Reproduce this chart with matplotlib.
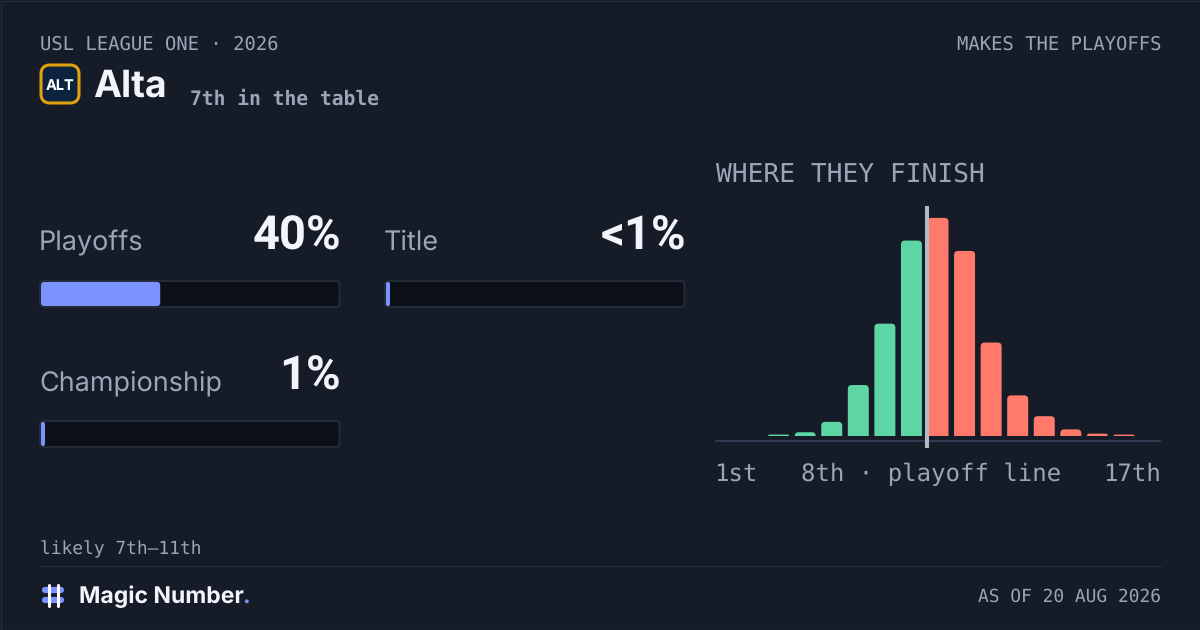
import matplotlib
matplotlib.use("Agg")
import matplotlib.pyplot as plt
from matplotlib.patches import FancyBboxPatch, PathPatch, Rectangle
from matplotlib.path import Path

plt.rcParams["text.hinting"] = "no_hinting"

BG = "#151b27"
EDGE = "#232a38"
TRACK = "#0c1018"
BLUE = "#7c93ff"
WHITE = "#f1f4fa"
GREY = "#9aa5b8"
GREEN = "#5dd5a4"
RED = "#ff7a6b"
MONO = "DejaVu Sans Mono"
SANS = "Inter"

# finish distribution, % of sims per table position
ranks = list(range(1, 18))
finish_pct = [0, 0, 0.15, 0.4, 1.5, 5.4, 11.9, 20.7, 23.1, 19.6, 9.9, 4.3, 2.1, 0.7, 0.25, 0.15, 0]
last_playoff_rank = 8

stat_labels = ["Playoffs", "Title", "Championship"]
stat_texts = ["40%", "<1%", "1%"]
stat_values = [40, 0.5, 1]


def px(size):
    return size * 0.72


fig = plt.figure(figsize=(12, 6.3), dpi=100, facecolor=BG)
ax = fig.add_axes([0, 0, 1, 1])
ax.set_xlim(0, 1200)
ax.set_ylim(630, 0)
ax.axis("off")

ax.add_patch(Rectangle((0.5, 0.5), 1199, 629, fc="none", ec=EDGE, lw=1))


def label(x, y, s, size, color=GREY, font=MONO, weight="normal", ha="left"):
    return ax.text(x, y, s, fontsize=px(size), color=color, family=font,
                   weight=weight, ha=ha, va="baseline")


def rbox(x0, y0, x1, y1, r, **kw):
    box = FancyBboxPatch((x0 + r, y0 + r), x1 - x0 - 2 * r, y1 - y0 - 2 * r,
                         boxstyle=f"round,pad={r},rounding_size={r}", **kw)
    ax.add_patch(box)


# header
label(39.5, 50, "USL LEAGUE ONE · 2026", 18.85)
label(1161, 50, "MAKES THE PLAYOFFS", 18.9, ha="right")
rbox(41, 65, 79, 103, 9, fc="#0c2340", ec="#e2a20f", lw=2.2)
label(60, 90, "ALT", 14.5, color="white", font=SANS, weight="bold", ha="center")
label(93, 97, "Alta", 37.5, color=WHITE, font=SANS, weight="bold")
label(190, 105, "7th in the table", 19.6, font=MONO, weight="bold")

# stat cards
cards = [(40, 250), (385, 250), (40, 390)]
for (x, base), name, txt, val in zip(cards, stat_labels, stat_texts, stat_values):
    label(x - 1, base, name, 27, font=SANS)
    label(x + 301, base, txt, 47, color=WHITE, font="Roboto", weight="bold", ha="right")
    top = base + 31
    rbox(x, top, x + 299.5, top + 26, 4, fc=TRACK, ec=EDGE, lw=1.5)
    width = max(298 * val / 100, 4)
    rbox(x + 1, top + 1, x + 1 + width, top + 25, min(3, width / 2), fc=BLUE, ec="none")

# histogram
label(715.5, 182, "WHERE THEY FINISH", 26.2)
hist = fig.add_axes([715 / 1200, 1 - 448 / 630, 446 / 1200, 242 / 630])
hist.set_xlim(0.605, 17.395)
hist.set_ylim(-1.27, 24.36)
hist.axis("off")
hist.patch.set_alpha(0)

X_PX = 26.56
Y_PX = 9.44
BAR_W = 0.79
for rank, pct in zip(ranks, finish_pct):
    if pct <= 0:
        continue
    r = min(4, pct * Y_PX, BAR_W * X_PX / 2)
    rx, ry = r / X_PX, r / Y_PX
    x0, x1 = rank - BAR_W / 2, rank + BAR_W / 2
    verts = [(x0, 0), (x0, pct - ry), (x0, pct), (x0 + rx, pct), (x1 - rx, pct),
             (x1, pct), (x1, pct - ry), (x1, 0), (x0, 0)]
    codes = [Path.MOVETO, Path.LINETO, Path.CURVE3, Path.CURVE3, Path.LINETO,
             Path.CURVE3, Path.CURVE3, Path.LINETO, Path.CLOSEPOLY]
    color = GREEN if rank <= last_playoff_rank else RED
    hist.add_patch(PathPatch(Path(verts, codes), fc=color, ec="none"))

hist.axhline(-0.53, color="#2f3a52", lw=1.5)
hist.axvline(last_playoff_rank + 0.59, color="#b4b9c6", lw=2.9)

label(714.5, 481, "1st", 24)
label(931, 481, "8th · playoff line", 24, ha="center")
label(1161, 481, "17th", 24, ha="right")

# footer
label(39.5, 554, "likely 7th–11th", 17.9)
ax.plot([40, 1161], [566, 566], color=EDGE, lw=1)
for y in (590, 600):
    ax.plot([45, 61], [y, y], color=BLUE, lw=4.5, solid_capstyle="round")
for x in (48.5, 57.5):
    ax.plot([x, x], [584.5, 605.5], color="white", lw=2.2, solid_capstyle="round")
brand = label(79, 603, "Magic Number", 23, color=WHITE, font=SANS, weight="bold")
end = brand.get_window_extent(fig.canvas.get_renderer()).x1
label(end - 2, 603, ".", 23, color=BLUE, font=SANS, weight="bold")
label(1161, 602, "AS OF 20 AUG 2026", 17.9, ha="right")

fig.savefig("out.png", dpi=100, facecolor=BG)
